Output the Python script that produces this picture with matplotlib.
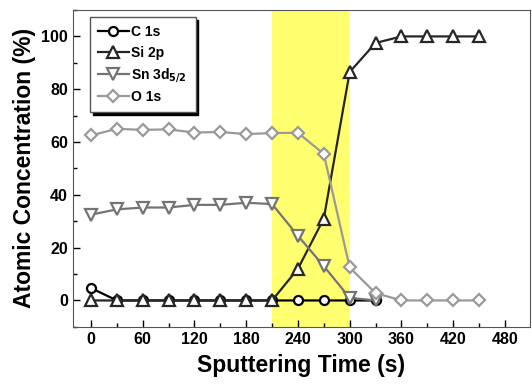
import matplotlib
matplotlib.use("Agg")
import matplotlib.pyplot as plt
from matplotlib.ticker import MultipleLocator

plt.rcParams['font.family'] = ['Liberation Sans', 'DejaVu Sans']
plt.rcParams['font.weight'] = 'bold'

# sputtering time (s) and atomic concentration (%)
t_c = [0, 30, 60, 90, 120, 150, 180, 210, 240, 270, 300, 330]
c_1s = [4.7, 0, 0, 0, 0, 0, 0, 0, 0, 0, 0, 0]

t_si = [0, 30, 60, 90, 120, 150, 180, 210, 240, 270, 300, 330, 360, 390, 420, 450]
si_2p = [0, 0, 0, 0, 0, 0, 0, 0, 12, 31, 86.5, 97.5, 100, 100, 100, 100]

t_sn = [0, 30, 60, 90, 120, 150, 180, 210, 240, 270, 300, 330]
sn_3d = [32.5, 34.5, 35.2, 35.2, 36.2, 36.2, 37, 36.5, 24.5, 13, 1, 0]

t_o = [0, 30, 60, 90, 120, 150, 180, 210, 240, 270, 300, 330, 360, 390, 420, 450]
o_1s = [62.5, 65, 64.6, 64.8, 63.6, 63.8, 63, 63.4, 63.5, 55.5, 12.5, 2.8, 0, 0, 0, 0]

interface = (210, 300)

fig = plt.figure(figsize=(5.32, 3.85), dpi=100)
ax = fig.add_axes([0.137, 0.151, 0.859, 0.823])

ax.axvspan(*interface, color='#ffff70', zorder=0, lw=0)

ax.plot(t_c, c_1s, '-o', color='black', mfc='white', mec='black', ms=6.5, mew=1.6, lw=1.6, label='C 1s', zorder=2)
ax.plot(t_si, si_2p, '-^', color='#262626', mfc='white', mec='#262626', ms=8.5, mew=1.6, lw=1.6, label='Si 2p', zorder=3)
ax.plot(t_sn, sn_3d, '-v', color='#747474', mfc='white', mec='#747474', ms=8.5, mew=1.6, lw=1.6, label='Sn 3d$_{5/2}$', zorder=4)
ax.plot(t_o, o_1s, '-D', color='#999999', mfc='white', mec='#999999', ms=6.5, mew=1.6, lw=1.6, label='O 1s', zorder=5)

ax.set_xlim(-21, 509)
ax.set_ylim(-10, 110)
ax.xaxis.set_major_locator(MultipleLocator(60))
ax.xaxis.set_minor_locator(MultipleLocator(30))
ax.yaxis.set_major_locator(MultipleLocator(20))
ax.yaxis.set_minor_locator(MultipleLocator(10))
ax.tick_params(which='both', direction='in', top=False, right=False, labelsize=11.5, width=1)
ax.tick_params(which='major', length=5)
ax.tick_params(which='minor', length=3)
for lab in ax.get_xticklabels() + ax.get_yticklabels():
    lab.set_fontweight('bold')
for sp in ax.spines.values():
    sp.set_color('#555555')

ax.set_xlabel('Sputtering Time (s)', fontsize=16.5, fontweight='bold', labelpad=5)
ax.set_ylabel('Atomic Concentration (%)', fontsize=16.5, fontweight='bold', labelpad=4)

leg = ax.legend(loc='upper left', bbox_to_anchor=(0.037, 0.978), borderaxespad=0,
                fancybox=False, shadow={'color': 'black', 'alpha': 1}, edgecolor='#555555',
                handlelength=2.2, handletextpad=0.2, borderpad=0.6,
                labelspacing=0.45, prop={'weight': 'bold', 'size': 10})
leg.get_frame().set_linewidth(1)

fig.savefig('out.png', dpi=100)
